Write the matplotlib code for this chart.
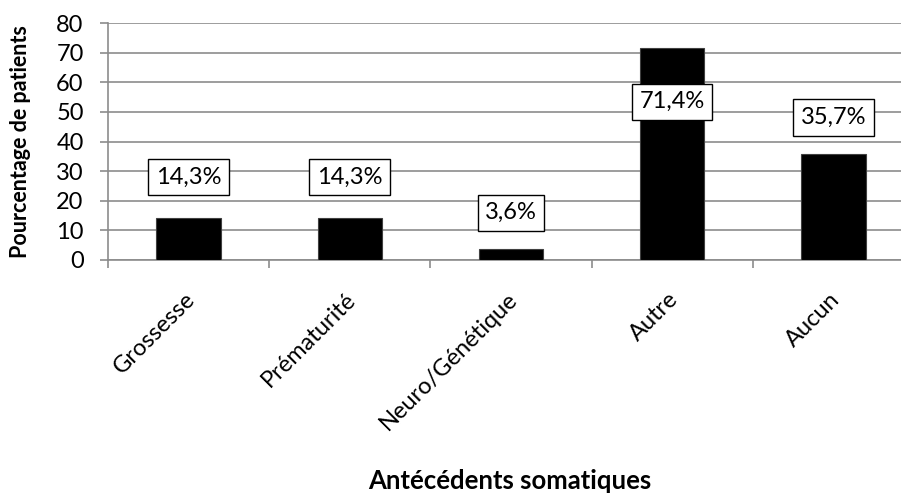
"""Bar chart: antécédents somatiques (Excel-like style)."""
import matplotlib
matplotlib.use("Agg")
import matplotlib.pyplot as plt
import numpy as np

categories = ["Grossesse", "Prématurité", "Neuro/Génétique", "Autre", "Aucun"]
values = [14.3, 14.3, 3.6, 71.4, 35.7]
labels = ["14,3%", "14,3%", "3,6%", "71,4%", "35,7%"]
# vertical offset of each value box from the bar top (data units)
label_offsets = [13.7, 13.7, 12.4, -18.0, 12.4]
yticks = [0, 10, 20, 30, 40, 50, 60, 70, 80]

plt.rcParams["font.family"] = ["Lato", "DejaVu Sans"]
GRID = "#8c8c8c"
FS = 17

fig = plt.figure(figsize=(9.01, 4.95), dpi=100)
# plot area runs a little past the right edge, as in the source image
ax = fig.add_axes([108 / 901, 1 - 260 / 495, 806 / 901, 237 / 495])

x = np.arange(len(categories))
ax.bar(x, values, width=0.4, color="black", edgecolor="#404040",
       linewidth=0.8, zorder=3)

for xi, v, lab, off in zip(x, values, labels, label_offsets):
    ax.text(xi, v + off, lab, ha="center", va="center", fontsize=FS,
            zorder=5,
            bbox=dict(boxstyle="square,pad=0.32", fc="white", ec="black",
                      lw=1.0))

ax.set_xlim(-0.5, len(categories) - 0.5)
ax.set_ylim(0, 80)
ax.set_yticks(yticks)
ax.yaxis.grid(True, color=GRID, linewidth=1.2, zorder=0)
ax.set_axisbelow(True)
ax.tick_params(axis="y", labelsize=FS, length=5.5, color=GRID, width=1.2,
               pad=12)

# category boundaries carry the ticks, names sit under bar centres
ax.set_xticks(np.arange(len(categories) + 1) - 0.5)
ax.set_xticklabels([])
ax.tick_params(axis="x", length=6, color=GRID, width=1.2)
for xi, name in zip(x, categories):
    ax.annotate(name, xy=(xi, 0), xycoords=("data", "axes fraction"),
                xytext=(2, -26), textcoords="offset points",
                rotation=45, rotation_mode="anchor", ha="right", va="center",
                fontsize=FS)

for side in ("top", "right"):
    ax.spines[side].set_visible(False)
for side in ("left", "bottom"):
    ax.spines[side].set_color(GRID)
    ax.spines[side].set_linewidth(1.2)

fig.text(510 / 901, 1 - 481 / 495, "Antécédents somatiques", ha="center",
         va="center", fontsize=18.5, fontweight="bold")
fig.text(21 / 901, 1 - 142 / 495, "Pourcentage de patients", ha="center",
         va="center", rotation=90, fontsize=15.5, fontweight="bold")

fig.savefig("out.png", dpi=100)
